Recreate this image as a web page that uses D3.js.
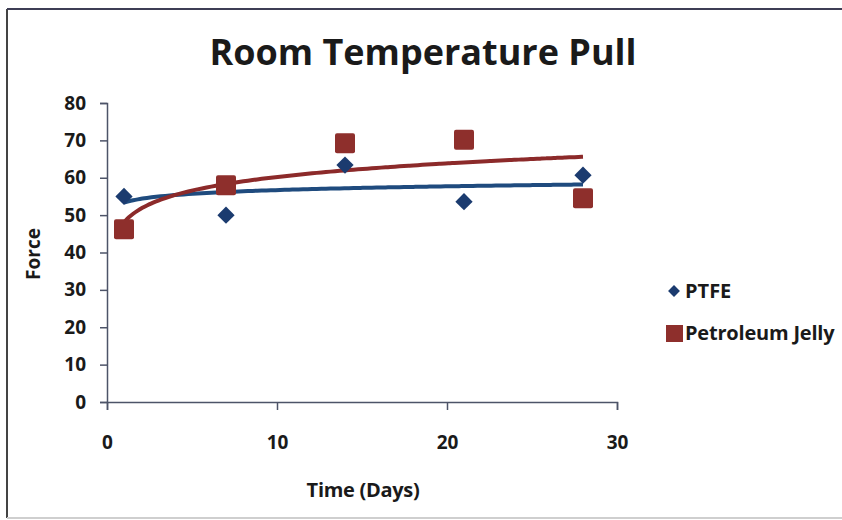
<!DOCTYPE html>
<html><head><meta charset="utf-8">
<script src="https://cdn.jsdelivr.net/npm/d3@7"></script>
<style>body{margin:0;background:#fff}svg{display:block}text{font-family:"Open Sans",sans-serif;font-weight:bold;fill:#1a1a1a}</style>
</head><body><svg id="c" width="842" height="520"></svg>
<script>
const days = [1, 7, 14, 21, 28];
const ptfe = [55, 50, 63.4, 53.6, 60.7];
const jelly = [46.2, 58, 69.2, 70.2, 54.5];
const xTicks = [0, 10, 20, 30];
const yTicks = [0, 10, 20, 30, 40, 50, 60, 70, 80];
const seriesNames = ["PTFE", "Petroleum Jelly"];

const svg = d3.select("#c");
const x = d3.scaleLinear().domain([0, 30]).range([107, 617]);
const y = d3.scaleLinear().domain([0, 80]).range([402, 103]);

// frame
svg.append("line").attr("x1",7).attr("x2",7).attr("y1",9).attr("y2",518).attr("stroke","#444").attr("stroke-width",2);
svg.append("line").attr("x1",7).attr("x2",842).attr("y1",9).attr("y2",9).attr("stroke","#3e3e55").attr("stroke-width",2);
svg.append("line").attr("x1",7).attr("x2",842).attr("y1",518).attr("y2",518).attr("stroke","#cfcfcf").attr("stroke-width",2);

svg.append("text").attr("x",423).attr("y",65).attr("text-anchor","middle").style("font-size","36px").text("Room Temperature Pull");

const axisColor = "#4d5468";
const gy = svg.append("g").attr("transform","translate(107,0)")
  .call(d3.axisLeft(y).tickValues(yTicks).tickSize(7).tickPadding(14));
const gx = svg.append("g").attr("transform","translate(0,402)")
  .call(d3.axisBottom(x).tickValues(xTicks).tickSize(8).tickPadding(26));
[gx, gy].forEach(g => {
  g.select(".domain").attr("stroke", axisColor).attr("stroke-width", 1.5);
  g.selectAll(".tick line").attr("stroke", axisColor).attr("stroke-width", 1.5);
  g.selectAll(".tick text").style("font-size","19px").attr("fill","#1a1a1a");
});
gy.selectAll(".tick text").attr("x", -21);
gx.selectAll(".tick text").attr("dy","0.35em").attr("y", 40);

svg.append("text").attr("transform","translate(33,254) rotate(-90)").attr("dy","0.35em").attr("text-anchor","middle").style("font-size","19px").text("Force");
svg.append("text").attr("x",363).attr("y",490).attr("dy","0.35em").attr("text-anchor","middle").style("font-size","20px").style("letter-spacing","-0.3px").text("Time (Days)");

// logarithmic trendlines (least squares on ln x)
function logFit(xs, ys) {
  const lx = xs.map(Math.log);
  const mx = d3.mean(lx), my = d3.mean(ys);
  let sxy = 0, sxx = 0;
  lx.forEach((v, i) => { sxy += (v - mx) * (ys[i] - my); sxx += (v - mx) ** 2; });
  const a = sxy / sxx, b = my - a * mx;
  return t => a * Math.log(t) + b;
}
const colors = { ptfe: "#1b3b6f", jelly: "#8e2f2c", ptfeLine: "#1f4b7e", jellyLine: "#8c2a2a" };
const line = d3.line().x(d => x(d[0])).y(d => y(d[1])).curve(d3.curveMonotoneX);
[[ptfe, colors.ptfeLine], [jelly, colors.jellyLine]].forEach(([ys, col]) => {
  const f = logFit(days, ys);
  const pts = d3.range(0, 101).map(i => { const t = days[0] + (days[days.length-1] - days[0]) * i / 100; return [t, f(t)]; });
  svg.append("path").attr("d", line(pts)).attr("fill","none").attr("stroke", col).attr("stroke-width", 4);
});

const diamond = d3.symbol().type(d3.symbolDiamond2).size(190);
svg.selectAll(".pt").data(days.map((d,i)=>[d, ptfe[i]])).join("path")
  .attr("d", diamond).attr("transform", d => `translate(${x(d[0])},${y(d[1])})`)
  .attr("fill", colors.ptfe);
svg.selectAll(".pj").data(days.map((d,i)=>[d, jelly[i]])).join("rect")
  .attr("x", d => x(d[0]) - 10).attr("y", d => y(d[1]) - 10).attr("width", 20).attr("height", 20).attr("rx", 2)
  .attr("fill", colors.jelly);

// legend
const lg = svg.append("g");
lg.append("path").attr("d", d3.symbol().type(d3.symbolDiamond2).size(90)).attr("transform","translate(674,291)").attr("fill", colors.ptfe);
lg.append("text").attr("x",685).attr("y",291).attr("dy","0.35em").style("font-size","20px").text(seriesNames[0]);
lg.append("rect").attr("x",666).attr("y",325).attr("width",17).attr("height",17).attr("fill", colors.jelly);
lg.append("text").attr("x",685).attr("y",333).attr("dy","0.35em").style("font-size","20px").style("letter-spacing","-0.2px").text(seriesNames[1]);
</script></body></html>
